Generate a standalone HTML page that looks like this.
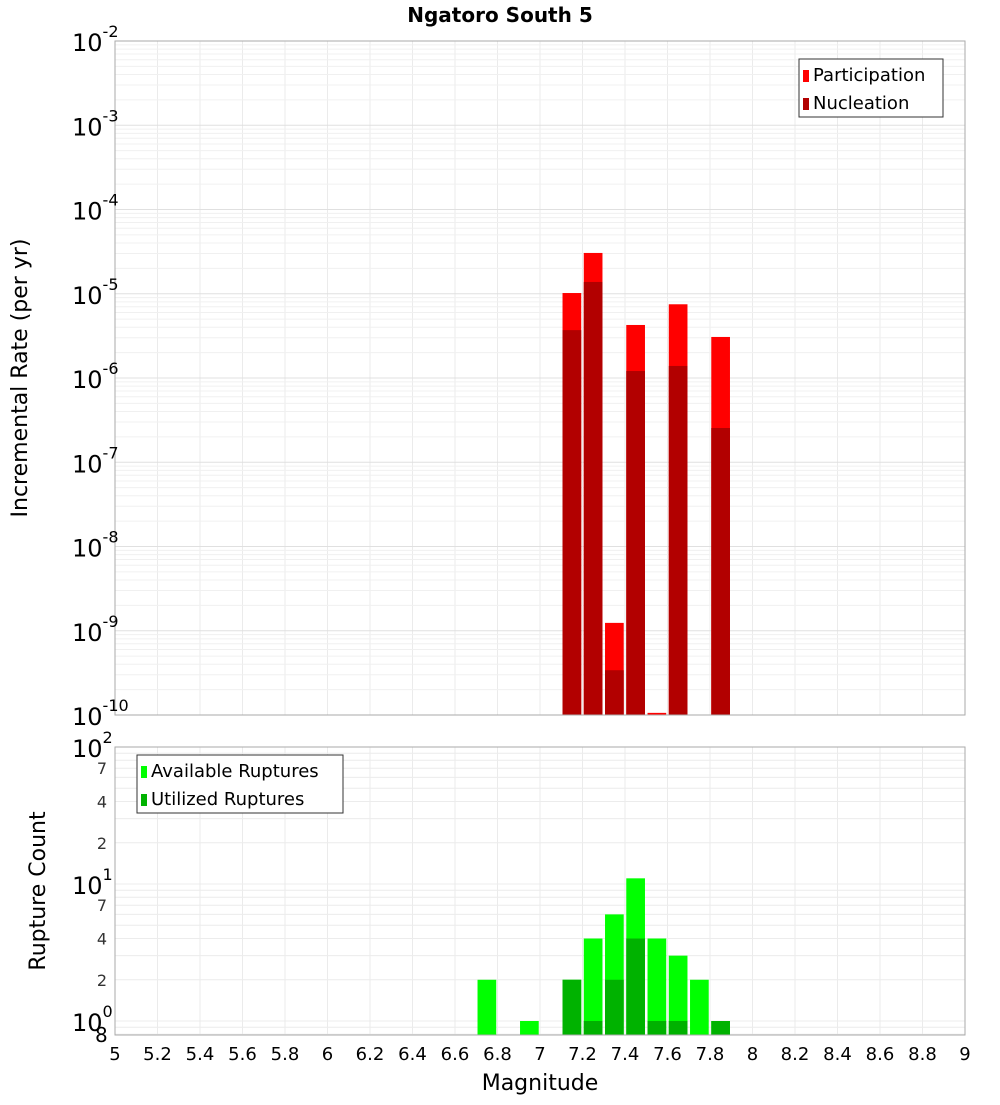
<!DOCTYPE html>
<html><head><meta charset="utf-8"><style>
body{margin:0;background:#fff;font-family:"Liberation Sans","DejaVu Sans",sans-serif}
svg text{font-family:"DejaVu Sans","Liberation Sans",sans-serif}
</style></head><body>
<svg id="c" width="1000" height="1100" xmlns="http://www.w3.org/2000/svg">
<text x="500" y="22" text-anchor="middle" font-size="20" font-weight="bold">Ngatoro South 5</text>
<text transform="translate(27,378) rotate(-90)" text-anchor="middle" font-size="22">Incremental Rate (per yr)</text>
<text transform="translate(45,891) rotate(-90)" text-anchor="middle" font-size="22">Rupture Count</text>
<text x="540" y="1090" text-anchor="middle" font-size="22">Magnitude</text>
</svg>
<script>
const rateMags=[7.15,7.25,7.35,7.45,7.55,7.65,7.85];
const participation=[1.02e-5,3.05e-5,1.24e-9,4.26e-6,1.06e-10,7.5e-6,3.07e-6];
const nucleation=[3.7e-6,1.38e-5,3.4e-10,1.21e-6,0,1.39e-6,2.55e-7];
const countMags=[6.75,6.95,7.15,7.25,7.35,7.45,7.55,7.65,7.75,7.85];
const available=[2,1,2,4,6,11,4,3,2,1];
const utilized=[0,0,2,1,2,4,1,1,0,1];
const xTicks=[5,5.2,5.4,5.6,5.8,6,6.2,6.4,6.6,6.8,7,7.2,7.4,7.6,7.8,8,8.2,8.4,8.6,8.8,9];

const svg=document.getElementById('c');
const NS='http://www.w3.org/2000/svg';
function mk(t,a,parent){const e=document.createElementNS(NS,t);for(const k in a)e.setAttribute(k,a[k]);(parent||svg).appendChild(e);return e;}
const X0=115,X1=965;
const x=v=>X0+(v-5)/4*(X1-X0);
const T0=41,T1=715;
const yT=v=>T0+(-2-Math.log10(v))/8*(T1-T0);
const B0=747,B1=1035;
const yB=v=>B0+(2-Math.log10(v))*137;
const bw=0.088;

// grids
function vgrid(top,bot){xTicks.forEach(t=>{const l=mk('line',{x1:x(t),x2:x(t),y1:top,y2:bot,stroke:'#ebebeb'});});}
vgrid(T0,T1);vgrid(B0,B1);
for(let d=-10;d<-2;d++)for(let m=1;m<10;m++){const yy=yT(m*Math.pow(10,d));const l=mk('line',{x1:X0,x2:X1,y1:yy,y2:yy,stroke:m==1?'#e0e0e0':'#f0f0f0'});}
for(let d=-1;d<2;d++)for(let m=1;m<10;m++){const v=m*Math.pow(10,d);const yy=yB(v);if(yy>B1||yy<B0)continue;const l=mk('line',{x1:X0,x2:X1,y1:yy,y2:yy,stroke:'#ececec'});}

// top bars
rateMags.forEach((m,i)=>{
 const p=mk('rect',{x:x(m-bw/2),y:yT(participation[i]),width:x(bw)-x(0),height:T1-yT(participation[i]),fill:'#ff0000'});
 
 if(nucleation[i]>0){const n=mk('rect',{x:x(m-bw/2),y:yT(nucleation[i]),width:x(bw)-x(0),height:T1-yT(nucleation[i]),fill:'#b20000'});
 }
});
// bottom bars
countMags.forEach((m,i)=>{
 const a=mk('rect',{x:x(m-bw/2),y:yB(available[i]),width:x(bw)-x(0),height:B1-yB(available[i]),fill:'#00ff00'});
 
 if(utilized[i]>0){const u=mk('rect',{x:x(m-bw/2),y:yB(utilized[i]),width:x(bw)-x(0),height:B1-yB(utilized[i]),fill:'#00b200'});
 }
});
// frames
const f1=mk('rect',{x:X0,y:T0,width:X1-X0,height:T1-T0,fill:'none',stroke:'#aaa'});

const f2=mk('rect',{x:X0,y:B0,width:X1-X0,height:B1-B0,fill:'none',stroke:'#aaa'});

// top y labels
for(let d=-10;d<=-2;d++){const yy=yT(Math.pow(10,d));const t=mk('text',{x:72,y:yy+10,'font-size':24});t.textContent='10';
 
 const s=mk('tspan',{dy:-14,'font-size':16},t);s.textContent=String(d);}
// bottom y labels
[[100,'10','2'],[10,'10','1'],[1,'10','0']].forEach(a=>{const yy=yB(a[0]);const t=mk('text',{x:72,y:yy+10,'font-size':24});t.textContent=a[1];
 
 const s=mk('tspan',{dy:-14,'font-size':16},t);s.textContent=a[2];});
[70,40,20,7,4,2].forEach(v=>{const t=mk('text',{x:107,y:yB(v)+6,'font-size':16,'text-anchor':'end',fill:'#333'});t.textContent=String(v).charAt(0);
 });
const e8=mk('text',{x:95,y:1042,'font-size':20});e8.textContent='8';
// x labels
xTicks.forEach(t=>{const e=mk('text',{x:x(t),y:1060,'font-size':18,'text-anchor':'middle'});e.textContent=String(t);
 });
// legends
function legend(name,lx,ly,w,items){const g=mk('g',{});
 mk('rect',{x:lx,y:ly,width:w,height:58,fill:'#fff',stroke:'#333'},g);
 items.forEach((it,i)=>{mk('rect',{x:lx+4,y:ly+11+i*28,width:6,height:12,fill:it[1]},g);
 const t=mk('text',{x:lx+14,y:ly+22+i*28,'font-size':18},g);t.textContent=it[0];});}
legend('rate-legend',799,59,144,[['Participation','#ff0000'],['Nucleation','#b20000']]);
legend('count-legend',137,755,206,[['Available Ruptures','#00ff00'],['Utilized Ruptures','#00b200']]);
</script>
</body></html>
